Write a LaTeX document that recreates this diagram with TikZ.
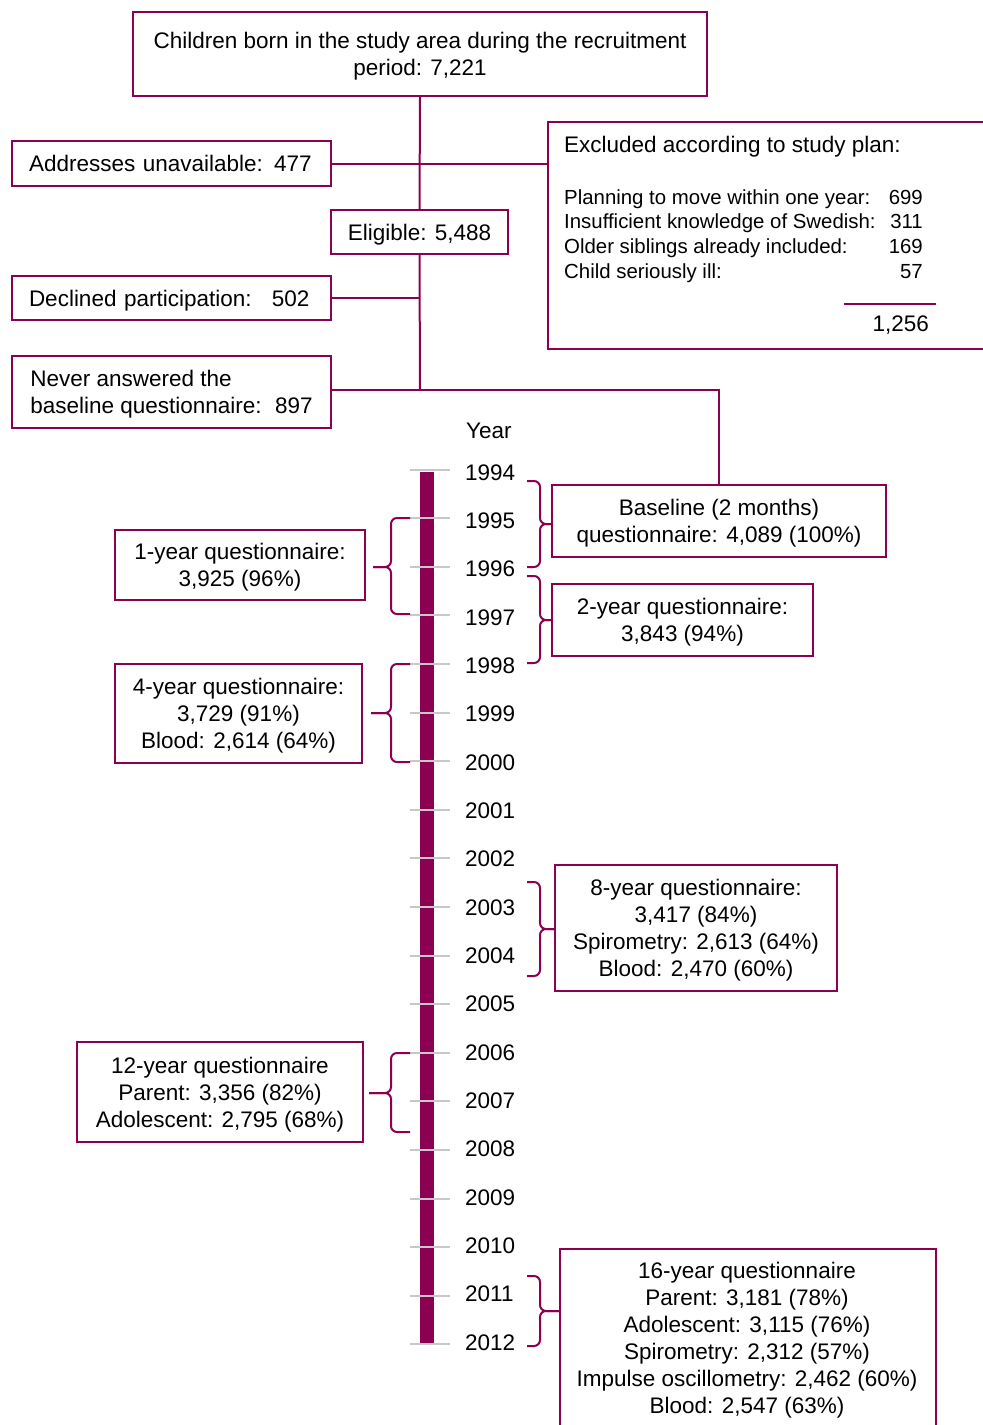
\documentclass[tikz,border=0pt]{standalone}
\usepackage{fontspec}
\setmainfont{Liberation Sans}
\definecolor{mar}{RGB}{139,0,81}
\definecolor{tickc}{RGB}{200,200,200}
\newcommand\fs{\fontsize{22.5}{27}\selectfont}
\newcommand\fsm{\fontsize{20.4}{24.5}\selectfont}
\newcommand\BrR[4]{%
  \draw[conn,rounded corners=6pt] (527,#1) -- (540,#1) -- (540,#2) -- (#4,#2);
  \draw[conn,rounded corners=6pt] (527,#3) -- (540,#3) -- (540,#2) -- (#4,#2);}
\newcommand\BrL[4]{%
  \draw[conn,rounded corners=6pt] (410,#1) -- (391,#1) -- (391,#2) -- (#4,#2);
  \draw[conn,rounded corners=6pt] (410,#3) -- (391,#3) -- (391,#2) -- (#4,#2);}
\begin{document}
\begin{tikzpicture}[x=1pt,y=-1pt,
  box/.style={draw=mar,line width=2pt,inner sep=0pt,align=center,font=\fs,text depth=0pt},
  txt/.style={inner sep=0pt,font=\fs,text depth=0pt},
  conn/.style={draw=mar,line width=2pt},
  tickst/.style={draw=tickc,line width=2pt}]
\useasboundingbox (0,0) rectangle (983,1425);
\clip (0,0) rectangle (983,1425);
% top part
\node[box,minimum width=574,minimum height=84] (top) at (420,54)
  {Children born in the study area during the recruitment\\period: 7,221};
\node[box,minimum width=319,minimum height=45,text width=285,align=left] (addr) at (171.5,163.5)
  {Addresses unavailable: 477};
\node[box,minimum width=460,minimum height=227,anchor=north west] (excl) at (547,121) {};
\node[box,minimum width=177,minimum height=44] (elig) at (419.5,232) {Eligible: 5,488};
\node[box,minimum width=319,minimum height=44,text width=285,align=left] (decl) at (171.5,298)
  {Declined participation:\hspace{0.9em}502};
\node[box,minimum width=319,minimum height=72,align=left] (never) at (171.5,392)
  {Never answered the\\baseline questionnaire:\hspace{0.6em}897};
% excluded contents
\node[txt,anchor=west] (exh) at (564,144) {Excluded according to study plan:};
\node[txt,font=\fsm,anchor=west] (e1) at (564,197) {Planning to move within one year:};
\node[txt,font=\fsm,anchor=west] (e2) at (564,221) {Insufficient knowledge of Swedish:};
\node[txt,font=\fsm,anchor=west] (e3) at (564,246) {Older siblings already included:};
\node[txt,font=\fsm,anchor=west] (e4) at (564,271) {Child seriously ill:};
\node[txt,font=\fsm,anchor=east] (v1) at (923,197) {699};
\node[txt,font=\fsm,anchor=east] (v2) at (923,221) {311};
\node[txt,font=\fsm,anchor=east] (v3) at (923,246) {169};
\node[txt,font=\fsm,anchor=east] (v4) at (923,271) {57};
\draw[conn] (844,304) -- (936,304);
\node[txt,anchor=east] (tot) at (929,324) {1,256};
% connectors
\coordinate (jn) at (420,390);
\draw[conn] (top.south) -- (elig.north);
\draw[conn] (addr.east) -- (addr.east -| excl.west);
\draw[conn] (elig.south) -- (jn);
\draw[conn] (decl.east) -- (decl.east -| elig.south);
% timeline
\node[txt,anchor=west] (year) at (466,431) {Year};
\fill[mar] (420,472) rectangle (434,1343);
\foreach \k in {0,...,18}{
  \draw[tickst] (410,{469.5+48.6*\k}) -- (450,{469.5+48.6*\k});
  \pgfmathtruncatemacro\yr{1994+\k}
  \node[txt,anchor=west] (y\k) at (465,{472.4+48.33*\k}) {\yr};
}
% boxes along the timeline
\node[box,minimum width=334,minimum height=72] (base) at (719,521)
  {Baseline (2 months)\\questionnaire: 4,089 (100\%)};
\draw[conn] (never.east |- jn) -- (jn) -| (base.north);
\node[box,minimum width=261,minimum height=72] (two) at (682.5,620)
  {2-year questionnaire:\\3,843 (94\%)};
\node[box,minimum width=250,minimum height=70] (one) at (240,565)
  {1-year questionnaire:\\3,925 (96\%)};
\node[box,minimum width=247,minimum height=99] (four) at (238.5,713.5)
  {4-year questionnaire:\\3,729 (91\%)\\Blood: 2,614 (64\%)};
\node[box,minimum width=282,minimum height=126] (eight) at (696,928)
  {8-year questionnaire:\\3,417 (84\%)\\Spirometry: 2,613 (64\%)\\Blood: 2,470 (60\%)};
\node[box,minimum width=286,minimum height=100] (twelve) at (220,1092)
  {12-year questionnaire\\Parent: 3,356 (82\%)\\Adolescent: 2,795 (68\%)};
\node[box,minimum width=376,minimum height=200,anchor=north west] (sixteen) at (559,1248) {};
\node[txt,align=center] (sixt) at (747,1338)
  {16-year questionnaire\\Parent: 3,181 (78\%)\\Adolescent: 3,115 (76\%)\\Spirometry: 2,312 (57\%)\\Impulse oscillometry: 2,462 (60\%)\\Blood: 2,547 (63\%)};
% braces
\BrR{481}{524}{567}{552}
\BrR{576}{620}{663}{552}
\BrR{882}{929}{976}{555}
\BrR{1276}{1311}{1346}{559}
\BrL{518}{567}{614}{373}
\BrL{664}{713}{762}{371}
\BrL{1053}{1093}{1132}{369}
\end{tikzpicture}
\end{document}
